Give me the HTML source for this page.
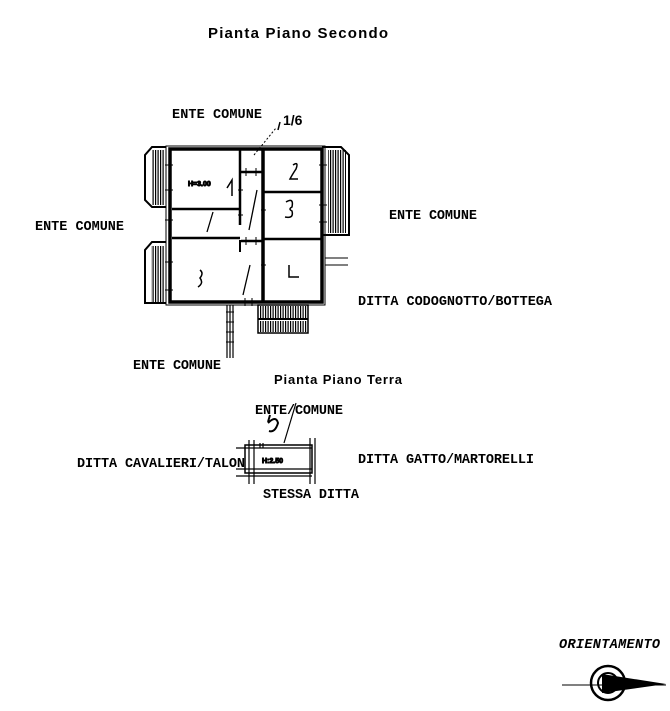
<!DOCTYPE html>
<html><head><meta charset="utf-8"><style>
html,body{margin:0;padding:0;background:#fff;width:670px;height:711px;overflow:hidden}
text.l{font-family:"Liberation Mono",monospace;font-weight:bold;font-size:13.5px;fill:#000}
text.h{font-family:"Liberation Sans",sans-serif;font-weight:bold;fill:#000}
</style></head><body>
<svg width="670" height="711" viewBox="0 0 670 711" xmlns="http://www.w3.org/2000/svg">
<defs>
<pattern id="hatch" width="2.5" height="4" patternUnits="userSpaceOnUse"><rect width="1.2" height="4" fill="#000"/></pattern>
</defs>
<text class="h" x="208" y="38" font-size="15" textLength="180">Pianta  Piano  Secondo</text>
<text class="l" x="172" y="118" font-size="11" textLength="90">ENTE COMUNE</text>
<text class="h" x="283" y="125" font-size="14" font-weight="normal">1/6</text>
<text class="l" x="35" y="230" font-size="11" textLength="89">ENTE COMUNE</text>
<text class="l" x="389" y="219" font-size="11" textLength="88">ENTE COMUNE</text>
<text class="l" x="358" y="305" textLength="194">DITTA CODOGNOTTO/BOTTEGA</text>
<text class="l" x="133" y="369" font-size="11" textLength="88">ENTE COMUNE</text>
<text class="h" x="274" y="384" font-size="13" font-weight="normal" textLength="128">Pianta Piano Terra</text>
<text class="l" x="255" y="414" font-size="11" textLength="88">ENTE/COMUNE</text>
<text class="l" x="77" y="467" font-size="11" textLength="168">DITTA CAVALIERI/TALON</text>
<text class="l" x="358" y="463" font-size="11" textLength="176">DITTA GATTO/MARTORELLI</text>
<text class="l" x="263" y="498" font-size="11" textLength="96">STESSA DITTA</text>
<text class="l" x="559" y="648" font-size="10" font-style="italic" textLength="101">ORIENTAMENTO</text>

<g stroke="#000" fill="none">
<path d="M166 147 H152 L145 155 V200 L152 207 H166" stroke-width="2"/>
<rect x="152" y="150" width="13" height="55" fill="url(#hatch)" stroke="none"/>
<path d="M166 242 H152 L145 250 V303 H166" stroke-width="2"/>
<rect x="151" y="246" width="14" height="56" fill="url(#hatch)" stroke="none"/>
<path d="M322 147 H341 L349 155 V235 H322" stroke-width="2"/>
<rect x="328" y="150" width="18" height="83" fill="url(#hatch)" stroke="none"/>
<rect x="170" y="149" width="152" height="153" stroke-width="3.5"/>
<rect x="166" y="146" width="159" height="159" stroke-width="1"/>
<line x1="240" y1="150" x2="240" y2="225" stroke-width="2.5"/>
<line x1="240" y1="240" x2="240" y2="252" stroke-width="2"/>
<line x1="263" y1="150" x2="263" y2="302" stroke-width="3.5"/>
<line x1="172" y1="209" x2="240" y2="209" stroke-width="2.5"/>
<line x1="172" y1="238" x2="240" y2="238" stroke-width="2.5"/>
<line x1="263" y1="192" x2="322" y2="192" stroke-width="2.5"/>
<line x1="263" y1="239" x2="322" y2="239" stroke-width="2.5"/>
<line x1="241" y1="172" x2="262" y2="172" stroke-width="2.5"/>
<line x1="241" y1="241" x2="262" y2="241" stroke-width="2.5"/>
<path d="M165 165 h8 M165 190 h8 M165 220 h8 M165 262 h8 M165 290 h8 M319 165 h8 M319 205 h8 M319 222 h8 M238 190 h5 M238 215 h5 M261 210 h5 M261 265 h5 M246 168 v8 M256 168 v8 M246 237 v8 M256 237 v8 M245 298 v8 M252 298 v8" stroke-width="1"/>
<path d="M325 258 H348 M325 265 H348 M325 300 V305" stroke-width="1"/>
<rect x="258" y="305" width="50" height="28" stroke-width="1.5"/>
<rect x="259" y="306" width="48" height="13" fill="url(#hatch)" stroke="none"/>
<rect x="259" y="321" width="48" height="11" fill="url(#hatch)" stroke="none"/>
<line x1="258" y1="319" x2="308" y2="319" stroke-width="2"/>
<path d="M227 305 V358 M230 305 V358 M233 305 V358" stroke-width="1.2"/>
<path d="M226 312 h8 M226 322 h8 M226 332 h8 M226 342 h8" stroke-width="1"/>
<path d="M254 155 L276 128" stroke-width="1" stroke-dasharray="2,2"/>
<path d="M278 130 L280 122" stroke-width="1.5"/>
<path d="M257 190 L249 230 M250 265 L243 295 M213 212 L207 232" stroke-width="1.3"/>
<path d="M293 165 q6 -4 3 4 q-4 6 -6 10 h8 M286 202 q8 -5 6 5 q-4 2 0 4 q2 8 -7 6 M289 265 v12 h10 M227 188 l5 -8 v16 M200 270 q4 3 0 8 q4 5 -2 9" stroke-width="1.5"/>
<text class="h" x="188" y="186" font-size="7">H=3.00</text>
<rect x="245" y="445" width="67" height="28" stroke-width="1.5"/>
<path d="M236 448 H312 M236 469 H312 M236 476 H312 M249 440 V484 M254 440 V484 M310 438 V484 M315 438 V484 M260 443 v5 M263 443 v5" stroke-width="1.2"/>
<path d="M284 443 L296 403" stroke-width="1.2"/>
<path d="M268 423 q8 -8 10 0 q-3 10 -9 8 M268 422 l2 -7" stroke-width="2"/>
<text class="h" x="262" y="463" font-size="7" font-weight="normal">H:2.50</text>
<circle cx="608" cy="683" r="17" stroke-width="2.5"/>
<circle cx="608" cy="683" r="10" stroke-width="2"/>
<line x1="562" y1="685" x2="666" y2="685" stroke-width="1"/>
<path d="M602 674 L666 684 L602 693 Z" fill="#000" stroke="none"/>
</g>
</svg>
</body></html>
